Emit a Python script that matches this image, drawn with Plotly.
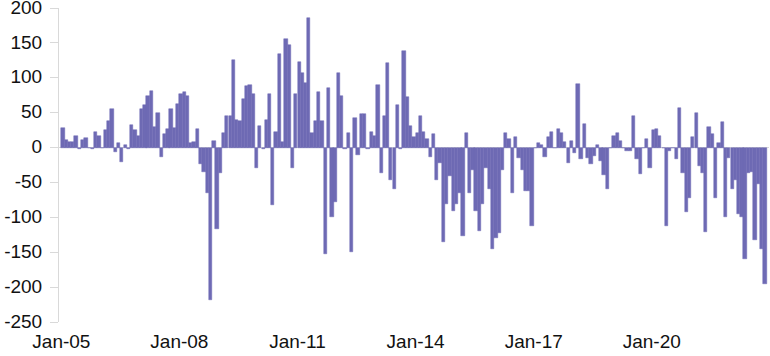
import pandas as pd
import plotly.graph_objects as go

# Monthly values, Jan-2005 onward
vals_2005_2007 = [28, 11, 8, 8, 16, -2, 11, 13, 0, -2, 22, 16,
                  0, 25, 38, 55, -6, 6, -20, 4, -2, 32, 25, 17,
                  55, 61, 74, 81, 29, 50, -13, 20, 26, 55, 28, 62]
vals_2008_2010 = [77, 80, 74, 6, 8, 27, -24, -35, -65, -218, 10, -116,
                  -37, 21, 45, 45, 126, 40, 38, 70, 88, 90, 77, -30,
                  31, -2, 39, 77, -83, 23, 134, 8, 155, 147, -30, 77]
vals_2011_2013 = [123, 107, 93, 185, 21, 38, 80, 38, -153, 86, -99, -78,
                  107, 74, -2, 21, -150, 42, -10, 48, 48, -2, 23, 16,
                  90, -37, 45, 121, -46, -59, 61, -2, 139, 72, 31, 15]
vals_2014_2016 = [21, 45, 22, 12, -13, 19, -47, -22, -135, -81, -41, -91,
                  -81, -65, -127, 21, -65, -32, -91, -120, -81, -30, -60, -146,
                  -129, -122, -32, 21, 12, -65, 15, -15, -32, -62, -62, -112]
vals_2017_2019 = [0, 7, 4, -13, 15, 23, -1, 27, 21, 8, -22, 10,
                  -8, 91, -16, 34, -15, -24, -12, 4, -19, -40, -59, 0,
                  17, 21, 9, 0, -5, -5, 45, -16, -38, 0, 12, -30]
vals_2020_2022 = [25, 27, 16, 0, -113, -5, 0, -16, 56, -37, -93, -72,
                  15, 50, -27, -36, -121, 29, 20, -73, 6, 36, -100, -15,
                  -60, -46, -95, -100, -159, -37, -35, -132, -52, -146, -196]

values = (vals_2005_2007 + vals_2008_2010 + vals_2011_2013 +
          vals_2014_2016 + vals_2017_2019 + vals_2020_2022)
months = pd.date_range("2005-01-01", periods=len(values), freq="MS")

x_tick_dates = ["2005-01-01", "2008-01-01", "2011-01-01",
                "2014-01-01", "2017-01-01", "2020-01-01"]
x_tick_labels = ["Jan-05", "Jan-08", "Jan-11", "Jan-14", "Jan-17", "Jan-20"]
y_ticks = [200, 150, 100, 50, 0, -50, -100, -150, -200, -250]
y_tick_labels = [str(v) for v in y_ticks]

BAR = "#6E6AB4"
AXIS = "#d9d9d9"
FONT = dict(family="Liberation Sans, Arial, sans-serif", size=19, color="#111111")
MONTH_MS = 30.44 * 24 * 3600 * 1000

fig = go.Figure(
    go.Bar(
        x=months,
        y=values,
        offset=0,
        width=MONTH_MS,
        marker=dict(color=BAR, line=dict(width=0.5, color=BAR)),
        hoverinfo="x+y",
    )
)

fig.update_layout(
    width=770,
    height=356,
    margin=dict(l=59, r=1, t=8, b=34),
    paper_bgcolor="white",
    plot_bgcolor="white",
    bargap=0,
    showlegend=False,
    font=FONT,
)

fig.update_xaxes(
    type="date",
    range=["2004-12-10", "2022-12-24"],
    tickvals=x_tick_dates,
    ticktext=x_tick_labels,
    showgrid=False,
    showline=False,
    zeroline=False,
    ticks="",
    tickfont=FONT,
    ticklabelstandoff=6,
    automargin=False,
    ticklabeloverflow="allow",
)

fig.update_yaxes(
    range=[-250, 200],
    tickvals=y_ticks,
    ticktext=y_tick_labels,
    showgrid=False,
    showline=True,
    linecolor=AXIS,
    linewidth=1,
    zeroline=True,
    zerolinecolor=AXIS,
    zerolinewidth=1,
    ticks="outside",
    ticklen=8,
    tickcolor=AXIS,
    tickfont=FONT,
    ticklabelstandoff=4,
    ticklabelshift=-1,
    automargin=False,
    ticklabeloverflow="allow",
)

fig.write_html(
    "out.html",
    config={"displayModeBar": False},
    post_script="document.body.style.margin='0';document.body.style.overflow='hidden';",
)
